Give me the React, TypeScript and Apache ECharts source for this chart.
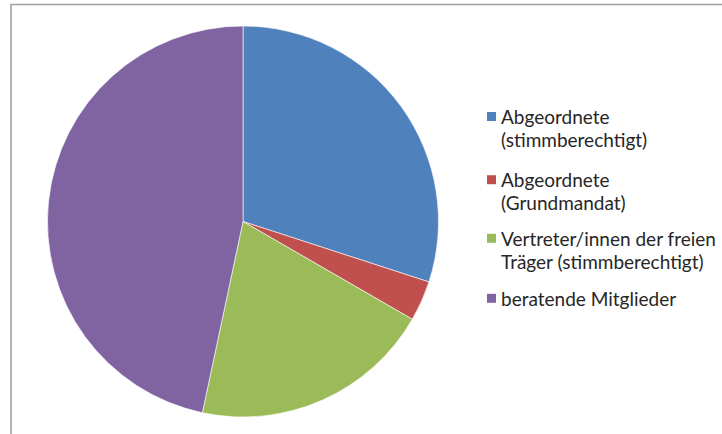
import React, { useEffect, useRef } from "react";
import * as echarts from "echarts";

const categories = [
  "Abgeordnete\n(stimmberechtigt)",
  "Abgeordnete\n(Grundmandat)",
  "Vertreter/innen der freien\nTräger (stimmberechtigt)",
  "beratende Mitglieder",
];
const values = [9, 1, 6, 14];
const colors = ["#4F81BD", "#C0504D", "#9BBB59", "#8064A2"];
const legendTops = [105, 168.2, 226.8, 286.8];

const FONT = "Lato";

export default function App() {
  const ref = useRef<HTMLDivElement>(null);
  useEffect(() => {
    if (!ref.current) return;
    const chart = echarts.init(ref.current, undefined, { renderer: "svg" });
    const twoLineIcon = "path://M0,0 M0,7h9v9h-9z M9,46";
    const legends = categories.map((name, i) => {
      const twoLine = name.includes("\n");
      return {
        orient: "vertical",
        left: 487,
        top: legendTops[i],
        padding: 0,
        itemWidth: 9,
        itemHeight: twoLine ? 46 : 9,
        itemGap: 0,
        icon: twoLine ? twoLineIcon : "rect",
        selectedMode: false,
        itemStyle: { borderWidth: 0 },
        textStyle: {
          fontFamily: FONT,
          fontSize: 19,
          lineHeight: 23,
          color: "#262626",
        },
        data: [name],
      };
    });
    chart.setOption({
      animation: false,
      color: colors,
      legend: legends,
      graphic: [
        {
          type: "rect",
          silent: true,
          shape: { x: 11, y: 4.5, width: 900, height: 600 },
          style: { fill: "none", stroke: "#a0a0a0", lineWidth: 1.6 },
        },
      ],
      series: [
        {
          type: "pie",
          center: [243, 221.5],
          radius: 195.5,
          startAngle: 90,
          clockwise: true,
          label: { show: false },
          labelLine: { show: false },
          emphasis: { disabled: true },
          itemStyle: { borderColor: "#ffffff", borderWidth: 0.6 },
          data: categories.map((name, i) => ({ name, value: values[i] })),
        },
      ],
    });
    return () => chart.dispose();
  }, []);
  return (
    <div
      ref={ref}
      style={{ position: "fixed", left: 0, top: 0, width: 722, height: 434, background: "#fff" }}
    />
  );
}
